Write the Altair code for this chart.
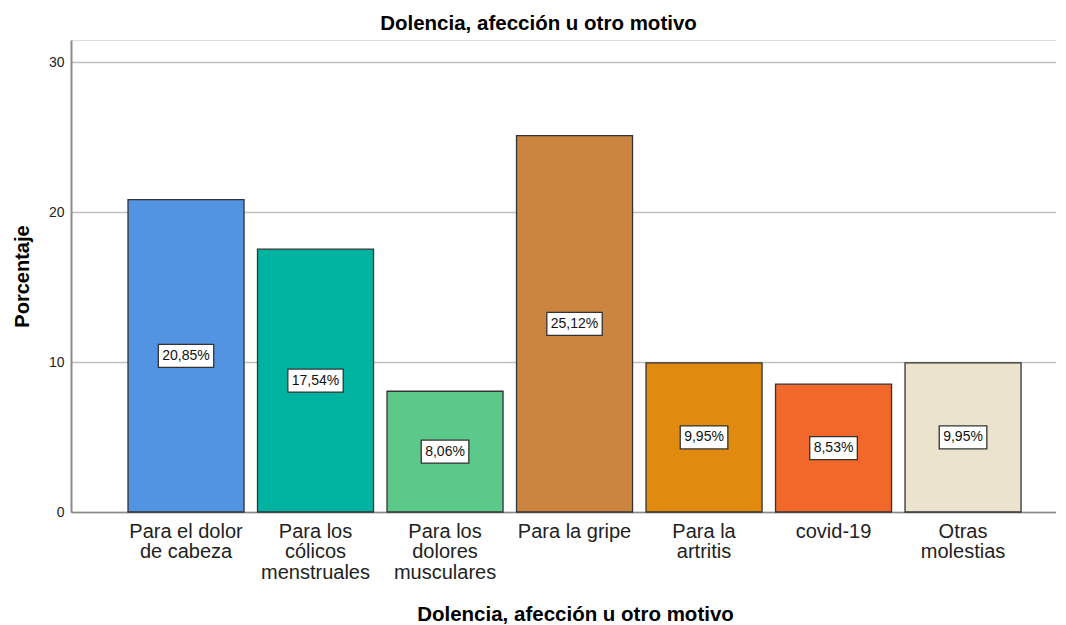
import altair as alt
import pandas as pd

categories = [
    "Para el dolor de cabeza",
    "Para los cólicos menstruales",
    "Para los dolores musculares",
    "Para la gripe",
    "Para la artritis",
    "covid-19",
    "Otras molestias",
]
label_lines = [
    ["Para el dolor", "de cabeza"],
    ["Para los", "cólicos", "menstruales"],
    ["Para los", "dolores", "musculares"],
    ["Para la gripe"],
    ["Para la", "artritis"],
    ["covid-19"],
    ["Otras", "molestias"],
]
values = [20.85, 17.54, 8.06, 25.12, 9.95, 8.53, 9.95]
colors = ["#5294E2", "#00B3A0", "#5CC98A", "#CC8540", "#E08A10", "#F2672A", "#EBE3CE"]

value_text = [f"{v:.2f}".replace(".", ",") + "%" for v in values]

BOX_FS = 14


def text_width(txt):
    w = 0.0
    for ch in txt:
        if ch.isdigit():
            w += 0.556
        elif ch == ",":
            w += 0.278
        elif ch == "%":
            w += 0.889
        else:
            w += 0.556
    return w * BOX_FS


def box_path(txt):
    hw = (text_width(txt) + 8) / 2
    hh = 11.5
    return f"M{-hw:.1f},{-hh}H{hw:.1f}V{hh}H{-hw:.1f}Z"


df = pd.DataFrame({
    "cat": categories,
    "val": values,
    "mid": [v / 2 for v in values],
    "txt": value_text,
    "box": [box_path(t) for t in value_text],
})

label_map = "{" + ",".join(
    "'" + c + "':[" + ",".join("'" + l + "'" for l in ls) + "]"
    for c, ls in zip(categories, label_lines)
) + "}"

FONT = "Liberation Sans"

x = alt.X(
    "cat:N",
    sort=categories,
    scale=alt.Scale(paddingInner=0.104, paddingOuter=0.355, align=0.62),
    axis=alt.Axis(
        title="Dolencia, afección u otro motivo",
        labelAngle=0,
        labelExpr=label_map + "[datum.value]",
        labelFontSize=20,
        labelLineHeight=20.5,
        labelPadding=9,
        labelColor="#222222",
        labelFont=FONT,
        ticks=False,
        domainColor="#8a8a8a",
        domainWidth=1.5,
        titleFontSize=20.5,
        titleFontWeight="bold",
        titleFont=FONT,
        titleColor="#000000",
        titleX=504,
        titleY=102,
        titleAlign="center",
        titleBaseline="middle",
    ),
)

y_scale = alt.Scale(domain=[0, 31.5], nice=False)

bars = alt.Chart(df).mark_bar(stroke="#333333", strokeWidth=1.3).encode(
    x=x,
    y=alt.Y(
        "val:Q",
        scale=y_scale,
        axis=alt.Axis(
            title="Porcentaje",
            values=[0, 10, 20, 30],
            grid=True,
            gridColor="#c0c0c0",
            gridWidth=1.3,
            ticks=False,
            labelFontSize=14,
            labelFont=FONT,
            labelColor="#222222",
            labelPadding=7,
            domainColor="#8a8a8a",
            domainWidth=2,
            titleFontSize=20,
            titleFontWeight="bold",
            titleFont=FONT,
            titleColor="#000000",
            titlePadding=16,
        ),
    ),
    color=alt.Color("cat:N", scale=alt.Scale(domain=categories, range=colors), legend=None),
)

boxes = alt.Chart(df).mark_point(
    filled=True, fill="white", stroke="#333333", strokeWidth=1.3, opacity=1, size=4
).encode(
    x=alt.X("cat:N", sort=categories),
    y=alt.Y("mid:Q", scale=y_scale),
    shape=alt.Shape("box:N", scale=None),
)

texts = alt.Chart(df).mark_text(font=FONT, fontSize=BOX_FS, color="#111111", baseline="middle").encode(
    x=alt.X("cat:N", sort=categories),
    y=alt.Y("mid:Q", scale=y_scale),
    text="txt:N",
)

chart = alt.layer(bars, boxes, texts).properties(
    width=985,
    height=472,
    title=alt.TitleParams(
        "Dolencia, afección u otro motivo",
        fontSize=20.5,
        font=FONT,
        fontWeight="bold",
        color="#000000",
        offset=6,
        dx=-25,
    ),
    autosize=alt.AutoSizeParams(type="none"),
    padding={"left": 63, "top": 32, "right": 0, "bottom": 112},
).configure_view(stroke=None).configure(background="white")

chart.save("out.html", embed_options={"renderer": "svg", "actions": False})
